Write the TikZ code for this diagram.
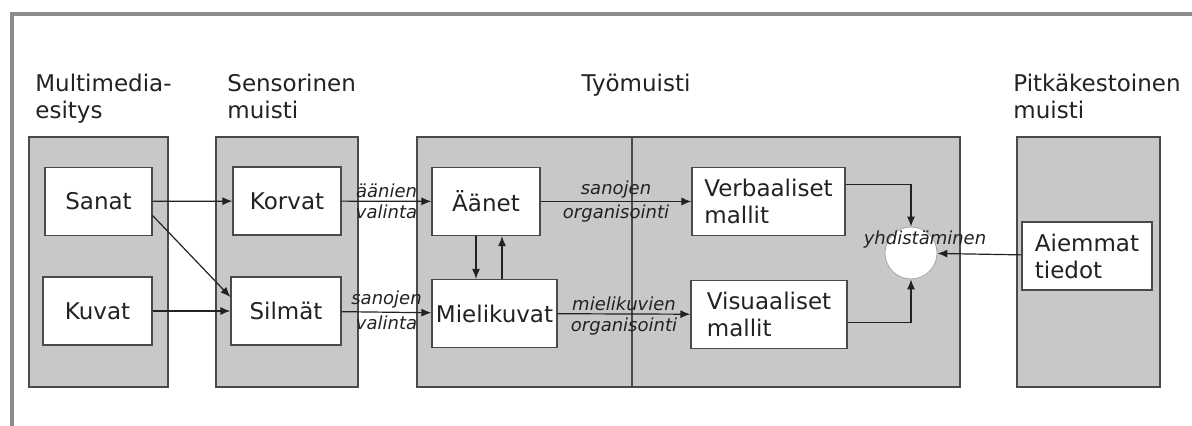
\documentclass[tikz,border=0pt]{standalone}
\usepackage{fontspec}
\setmainfont{DejaVu Sans}[ItalicFont={DejaVu Sans Oblique}]
\usetikzlibrary{arrows.meta,calc}
\definecolor{panel}{HTML}{C8C8C8}
\definecolor{rim}{HTML}{4A4A4A}
\definecolor{frame}{HTML}{8C8C8C}
\definecolor{ink}{HTML}{222222}

\begin{document}
\begin{tikzpicture}[x=0.5pt,y=-0.5pt,font=\fontsize{11.5}{13.5}\selectfont,
  panelbox/.style={draw=rim,fill=panel,line width=0.6pt,inner sep=0,minimum height=125pt},
  item/.style={draw=rim,fill=white,line width=0.6pt,inner sep=2pt,minimum height=34pt,align=left,text=ink},
  head/.style={anchor=north west,inner sep=0,align=left,text=ink},
  arr/.style={-{Latex[length=5pt,width=4pt]},line width=0.6pt,draw=ink},
  lbl/.style={font=\fontsize{9}{10}\selectfont\itshape,text=ink,inner sep=1.5pt}]
  \useasboundingbox (0,0) rectangle (1192,426);
  % outer frame
  \draw[frame,line width=2pt] (12,426) -- (12,14) -- (1192,14);
  % panels
  \node[panelbox,minimum width=69.5pt] (mm) at (98.5,262) {};
  \node[panelbox,minimum width=71pt] (sm) at (287,262) {};
  \node[panelbox,minimum width=271.5pt] (tm) at (688.5,262) {};
  \node[panelbox,minimum width=71.5pt] (pm) at (1088.5,262) {};
  \draw[rim,line width=0.6pt] (632,0 |- tm.north) -- (632,0 |- tm.south);
  % headings
  \node[head] (hmm) at (35,74) {Multimedia-\\esitys};
  \node[head] (hsm) at (227,74) {Sensorinen\\muisti};
  \node[head,anchor=north] (htm) at (636,74) {Työmuisti};
  \node[head] (hpm) at (1013,74) {Pitkäkestoinen\\muisti};
  % boxes
  \node[item,minimum width=53.5pt] (sanat) at (98.5,201.5) {Sanat};
  \node[item,minimum width=54.5pt] (kuvat) at (97.5,311) {Kuvat};
  \node[item,minimum width=54pt] (korvat) at (287,201) {Korvat};
  \node[item,minimum width=55pt] (silmat) at (286,311) {Silmät};
  \node[item,minimum width=54pt] (aanet) at (486,201.5) {Äänet};
  \node[item,minimum width=62.5pt,inner sep=1pt] (mieli) at (494.5,313.5) {Mielikuvat};
  \node[item,minimum width=76.5pt] (verb) at (768.5,201.5) {Verbaaliset\\mallit};
  \node[item,minimum width=78pt] (vis) at (769,314.5) {Visuaaliset\\mallit};
  \node[item,minimum width=65pt] (aiem) at (1087,256) {Aiemmat\\tiedot};
  \node[circle,draw=gray!70,fill=white,minimum size=26pt,inner sep=0] (yh) at (911,253) {};
  % connectors
  \draw[arr] (sanat) -- (korvat);
  \draw[arr] ([yshift=-7pt]sanat.east) -- ([yshift=7pt]silmat.west);
  \draw[arr] (kuvat) -- (silmat);
  \draw[arr] (korvat) -- node[lbl,above]{äänien} node[lbl,below]{valinta} (aanet);
  \draw[arr] (silmat) -- node[lbl,above]{sanojen} node[lbl,below]{valinta} (mieli);
  \draw[arr] (aanet) -- node[lbl,above]{sanojen} node[lbl,below]{organisointi} (verb);
  \draw[arr] (mieli) -- node[lbl,above]{mielikuvien} node[lbl,below]{organisointi} (vis);
  \coordinate (dn) at ([xshift=-5pt]aanet.south);
  \coordinate (up) at ([xshift=8pt]aanet.south);
  \draw[arr] (dn) -- (dn |- mieli.north);
  \draw[arr] (up |- mieli.north) -- (up);
  \draw[arr] ([yshift=8.5pt]verb.east) -| (yh.north);
  \draw[arr] ([yshift=-4pt]vis.east) -| (yh.south);
  \draw[arr] (aiem) -- (yh);
  \node[lbl] (yhl) at (925,240) {yhdistäminen};
\end{tikzpicture}
\end{document}
